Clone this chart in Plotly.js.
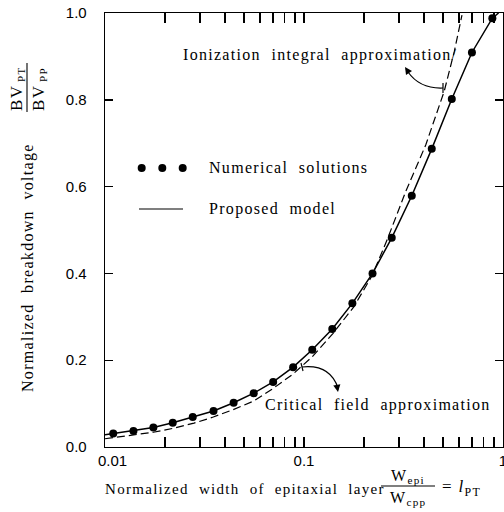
<!DOCTYPE html>
<html>
<head>
<meta charset="utf-8">
<script src="https://cdn.plot.ly/plotly-3.0.1.min.js"></script>
<style>
  html, body { margin: 0; padding: 0; background: #fff; }
  #plot { width: 504px; height: 512px; }
  .annotation-text { letter-spacing: 1.3px; }
</style>
</head>
<body>
<div id="plot"></div>
<script>
// ---- data ----
// Numerical solutions (dots)
var xNum = [0.011, 0.0139, 0.0175, 0.0219, 0.0276, 0.0351, 0.0443, 0.0559, 0.070, 0.0882,
            0.110, 0.1387, 0.175, 0.221, 0.276, 0.348, 0.4385, 0.553, 0.698, 0.884];
var yNum = [0.031, 0.037, 0.045, 0.056, 0.069, 0.083, 0.102, 0.124, 0.150, 0.184,
            0.224, 0.272, 0.331, 0.400, 0.482, 0.579, 0.687, 0.802, 0.909, 0.988];
// Proposed model (solid line)
var xModel = [0.01, 0.011, 0.0139, 0.0175, 0.0219, 0.0276, 0.0351, 0.0443, 0.0559, 0.070, 0.0882,
              0.110, 0.1387, 0.175, 0.221, 0.276, 0.348, 0.4385, 0.553, 0.698, 0.884, 0.95];
var yModel = [0.028, 0.031, 0.037, 0.045, 0.056, 0.069, 0.083, 0.102, 0.124, 0.150, 0.184,
              0.224, 0.272, 0.331, 0.400, 0.482, 0.579, 0.687, 0.802, 0.909, 0.988, 1.0];
// Critical field / ionization integral approximations (dashed)
var xApprox = [0.01, 0.0125, 0.0175, 0.022, 0.028, 0.035, 0.044, 0.056, 0.070, 0.088,
               0.11, 0.14, 0.178, 0.22, 0.262, 0.324, 0.409, 0.506, 0.569, 0.622];
var yApprox = [0.019, 0.025, 0.034, 0.043, 0.055, 0.069, 0.086, 0.106, 0.135, 0.168,
               0.208, 0.262, 0.323, 0.395, 0.478, 0.588, 0.696, 0.819, 0.911, 0.995];

// tick values / labels
var xTickVals = [0.01,0.02,0.03,0.04,0.05,0.06,0.07,0.08,0.09,
                 0.1,0.2,0.3,0.4,0.5,0.6,0.7,0.8,0.9,1];
var xTickText = ['\u2002\u20020.01','','','','','','','','',
                 '0.1','','','','','','','','','1'];
var yTickVals = [0, 0.2, 0.4, 0.6, 0.8, 1.0];
var yTickText = ['0.0', '0.2', '0.4', '0.6', '0.8', '1.0'];

// ---- labels ----
var sp = '\u00a0 ';
var serif = 'Liberation Serif, Times New Roman, serif';
var sans = 'Liberation Sans, Arial, sans-serif';

// pixel -> paper helpers for decorations (plot area: x 105..503, y 13..447)
function px(x) { return (x - 105) / 398; }
function py(y) { return (447 - y) / 434; }

var traces = [
  { x: xApprox, y: yApprox, type: 'scatter', mode: 'lines',
    line: { color: '#000', width: 1.2, dash: '8px,4px' }, hoverinfo: 'skip' },
  { x: xModel, y: yModel, type: 'scatter', mode: 'lines',
    line: { color: '#000', width: 1.5 }, hoverinfo: 'skip' },
  { x: xNum, y: yNum, type: 'scatter', mode: 'markers',
    marker: { color: '#000', size: 8 }, hoverinfo: 'skip' }
];

function txt(text, x, y, opts) {
  var a = { text: text, xref: 'paper', yref: 'paper', x: px(x), y: py(y),
            showarrow: false, xanchor: 'left', yanchor: 'middle',
            font: { family: serif, size: 16, color: '#000' } };
  for (var k in opts) a[k] = opts[k];
  return a;
}
function rot(text, x, y, size) {
  return txt(text, x, y, { xanchor: 'center', textangle: -90,
                           font: { family: serif, size: size, color: '#000' } });
}

var annotations = [
  txt('Ionization' + sp + 'integral' + sp + 'approximation/', 181, 55),
  txt('Critical' + sp + 'field' + sp + 'approximation', 263, 405),
  txt('Numerical' + sp + 'solutions', 207, 168),
  txt('Proposed' + sp + 'model', 207, 209),
  txt('Normalized' + sp + 'width' + sp + 'of' + sp + 'epitaxial' + sp + 'layer', 103, 489,
      { font: { family: serif, size: 15, color: '#000' } }),
  txt('W<sub>epi</sub>', 408, 476, { xanchor: 'center' }),
  txt('W<sub>cpp</sub>', 408, 498, { xanchor: 'center' }),
  txt('= <i>l</i><sub>PT</sub>', 440, 488, { font: { family: serif, size: 17, color: '#000' } }),
  rot('Normalized' + sp + 'breakdown' + sp + 'voltage', 28, 268, 16),
  rot('BV', 16, 98, 17),
  rot('PT', 21, 75, 11),
  rot('BV', 38, 98, 17),
  rot('PP', 43, 75, 11),
  // arrowheads
  { text: '', xref: 'paper', yref: 'paper', x: px(405), y: py(67), showarrow: true,
    ax: 4, ay: 6, axref: 'pixel', ayref: 'pixel', arrowhead: 2, arrowsize: 1.2, arrowwidth: 1.2, arrowcolor: '#000' },
  { text: '', xref: 'paper', yref: 'paper', x: px(338), y: py(392), showarrow: true,
    ax: -1, ay: -6, axref: 'pixel', ayref: 'pixel', arrowhead: 2, arrowsize: 1.2, arrowwidth: 1.2, arrowcolor: '#000' }
];

function dot(x, y) {
  return { type: 'circle', xref: 'paper', yref: 'paper',
           xsizemode: 'pixel', ysizemode: 'pixel', xanchor: px(x), yanchor: py(y),
           x0: -4, x1: 4, y0: -4, y1: 4,
           fillcolor: '#000', line: { color: '#000', width: 0 } };
}
function seg(x0, y0, x1, y1, w) {
  return { type: 'line', xref: 'paper', yref: 'paper',
           x0: px(x0), y0: py(y0), x1: px(x1), y1: py(y1),
           line: { color: '#000', width: w || 1.2 } };
}
function curve(p0, c, p1) {
  return { type: 'path', xref: 'paper', yref: 'paper',
           path: 'M ' + px(p0[0]) + ' ' + py(p0[1]) + ' Q ' + px(c[0]) + ' ' + py(c[1]) +
                 ' ' + px(p1[0]) + ' ' + py(p1[1]),
           line: { color: '#000', width: 1.2 } };
}

var shapes = [
  dot(141.7, 168), dot(162.3, 168), dot(182.7, 168),
  seg(139, 209, 183, 209, 1.2),
  seg(381, 486, 435, 486, 1.1),          // fraction bar (x title)
  seg(27, 63, 27, 112, 1.1),             // fraction bar (y title)
  curve([443, 88], [420, 89], [408, 72]), // ionization arrow
  seg(443, 83, 443, 93, 1.2),
  curve([302, 367], [330, 364], [338, 388]), // critical field arrow
  seg(301, 363, 303, 371, 1.2)
];

var layout = {
  width: 504, height: 512,
  margin: { l: 105, r: 1, t: 13, b: 65 },
  paper_bgcolor: '#fff', plot_bgcolor: '#fff',
  showlegend: false,
  xaxis: {
    type: 'log', range: [-2, 0],
    tickmode: 'array', tickvals: xTickVals, ticktext: xTickText,
    ticks: 'inside', ticklen: 10, tickwidth: 1.4, tickcolor: '#000',
    showline: true, linecolor: '#000', linewidth: 1.3, mirror: 'ticks',
    showgrid: false, zeroline: false,
    tickfont: { family: sans, size: 15, color: '#000' },
    ticklabeloverflow: 'allow'
  },
  yaxis: {
    range: [0, 1],
    tickmode: 'array', tickvals: yTickVals, ticktext: yTickText,
    ticklabelstandoff: 14,
    ticks: 'inside', ticklen: 8, tickwidth: 1.4, tickcolor: '#000',
    showline: true, linecolor: '#000', linewidth: 1.3, mirror: 'ticks',
    showgrid: false, zeroline: false,
    tickfont: { family: sans, size: 15, color: '#000' },
    ticklabeloverflow: 'allow'
  },
  annotations: annotations,
  shapes: shapes
};

Plotly.newPlot('plot', traces, layout, { staticPlot: true, displayModeBar: false });
</script>
</body>
</html>
